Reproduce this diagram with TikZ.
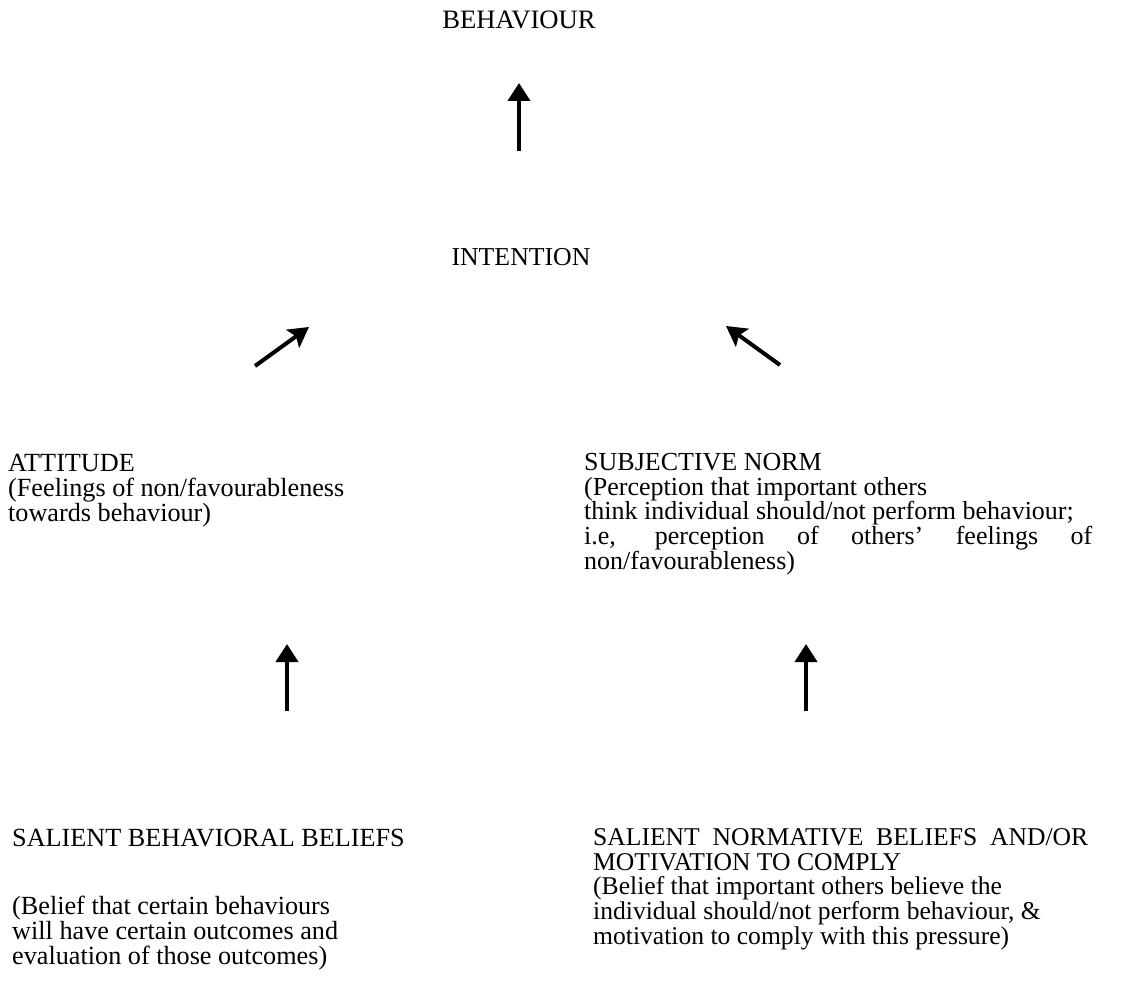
\documentclass[tikz,border=0pt]{standalone}
\usepackage{fontspec}
\setmainfont{Liberation Serif}
\usetikzlibrary{arrows.meta}
\begin{document}
\begin{tikzpicture}[x=1pt,y=-1pt,
  txt/.style={inner sep=0pt, align=left, font=\fontsize{#1}{24.6}\selectfont},
  uparr/.style={line width=4pt, -{Triangle[length=18pt,width=22pt]}},
  diagarr/.style={line width=4pt, -{Stealth[length=20pt,width=22pt,inset=4pt]}}]
\useasboundingbox (0,0) rectangle (1147,987);
% top nodes
\node[txt=26.6, anchor=base] (beh) at (519,29) {BEHAVIOUR};
\node[txt=25.8, anchor=base] (int) at (521,265) {INTENTION};
% middle nodes (base = baseline of last line)
\node[txt=26.2, anchor=base west] (att) at (8,521) {ATTITUDE\\(Feelings of non/favourableness\\towards behaviour)};
\node[txt=26, anchor=base west] (sn) at (584,569) {SUBJECTIVE NORM\\(Perception that important others\\think individual should/not perform behaviour;\\\makebox[508pt][s]{i.e, perception of others' feelings of}\\non/favourableness)};
% bottom nodes
\node[txt=26.2, anchor=base west] (sbb) at (12,964) {SALIENT BEHAVIORAL BELIEFS\\[43.5pt](Belief that certain behaviours\\will have certain outcomes and\\evaluation of those outcomes)};
\node[txt=25.6, anchor=base west] (snb) at (593,944) {\makebox[495pt][s]{SALIENT NORMATIVE BELIEFS AND/OR}\\MOTIVATION TO COMPLY\\(Belief that important others believe the\\individual should/not perform behaviour, \&\\motivation to comply with this pressure)};
% arrow end points
\coordinate (ib) at (519,151);
\coordinate (bi) at (519,83);
\coordinate (ai) at (255,366);
\coordinate (ia) at (309,327);
\coordinate (si) at (780,365);
\coordinate (is) at (726,326);
\coordinate (ba) at (287,711);
\coordinate (ab) at (287,644);
\coordinate (ns) at (806,711);
\coordinate (sn2) at (806,644);
% connectors
\draw[uparr] (ib) -- (bi);
\draw[diagarr] (ai) -- (ia);
\draw[diagarr] (si) -- (is);
\draw[uparr] (ba) -- (ab);
\draw[uparr] (ns) -- (sn2);
\end{tikzpicture}
\end{document}
